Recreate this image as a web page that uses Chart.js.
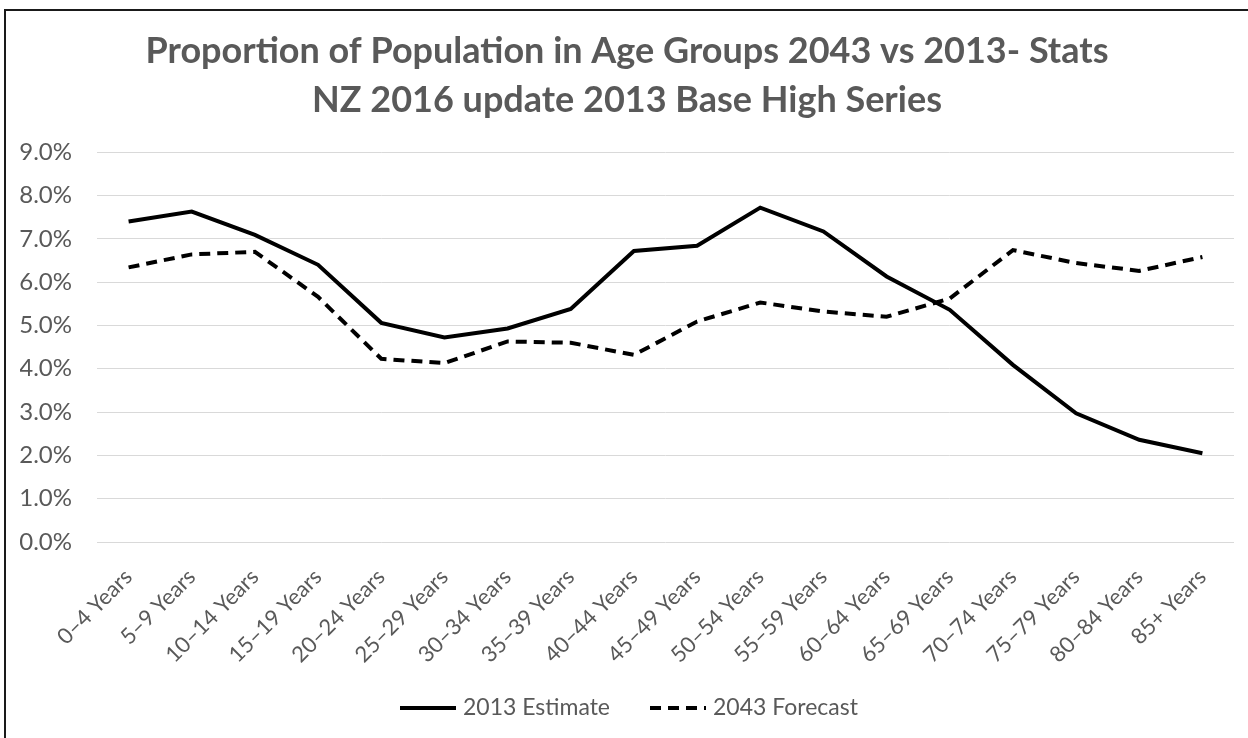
<!DOCTYPE html>
<html>
<head>
<meta charset="utf-8">
<script src="https://cdn.jsdelivr.net/npm/chart.js@4.4.1/dist/chart.umd.min.js"></script>
<style>
  html, body { margin: 0; padding: 0; background: #fff; }
  #wrap { position: relative; width: 1248px; height: 738px; }
  #frame { position: absolute; left: 4px; top: 9px; width: 1300px; height: 800px;
           border-left: 2px solid #1a1a1a; border-top: 2px solid #1a1a1a; pointer-events: none; }
</style>
</head>
<body>
<div id="wrap">
  <canvas id="line-canvas" width="1248" height="738"></canvas>
  <div id="frame"></div>
</div>
<script>
var ageGroups = ["0\u20134 Years", "5\u20139 Years", "10\u201314 Years", "15\u201319 Years", "20\u201324 Years",
  "25\u201329 Years", "30\u201334 Years", "35\u201339 Years", "40\u201344 Years", "45\u201349 Years",
  "50\u201354 Years", "55\u201359 Years", "60\u201364 Years", "65\u201369 Years", "70\u201374 Years",
  "75\u201379 Years", "80\u201384 Years", "85+ Years"];

// percent of population
var estimate2013 = [7.40, 7.63, 7.09, 6.40, 5.06, 4.72, 4.93, 5.38, 6.72, 6.84, 7.72, 7.17, 6.13, 5.36, 4.09, 2.97, 2.36, 2.05];
var forecast2043 = [6.34, 6.64, 6.70, 5.66, 4.23, 4.13, 4.63, 4.60, 4.32, 5.09, 5.53, 5.32, 5.20, 5.62, 6.74, 6.44, 6.26, 6.58];

var yTicks = [0, 1, 2, 3, 4, 5, 6, 7, 8, 9];

var fontFam = "Lato, 'Noto Sans', sans-serif";
var grey = "#595959";

// legend drawn like the Excel one: two items spread out under the axis
var lineLegend = {
  id: "lineLegend",
  afterDraw: function(chart) {
    var ctx = chart.ctx;
    var items = [{x: 400}, {x: 650}];
    ctx.save();
    ctx.font = "23px " + fontFam;
    ctx.textBaseline = "middle";
    chart.data.datasets.forEach(function(ds, i) {
      var x = items[i].x, y = 708;
      ctx.strokeStyle = ds.borderColor;
      ctx.lineWidth = ds.borderWidth;
      ctx.setLineDash(ds.borderDash || []);
      ctx.beginPath();
      ctx.moveTo(x, y);
      ctx.lineTo(x + 56, y);
      ctx.stroke();
      ctx.fillStyle = grey;
      ctx.fillText(ds.label, x + 63, y);
    });
    ctx.restore();
  }
};

var ctx = document.getElementById("line-canvas");

var chartData = {
  labels: ageGroups,
  datasets: [{
    label: "2013 Estimate",
    data: estimate2013,
    borderColor: "#000000",
    backgroundColor: "#000000",
    borderWidth: 4,
    fill: false,
    tension: 0,
    pointRadius: 0
  }, {
    label: "2043 Forecast",
    data: forecast2043,
    borderColor: "#000000",
    backgroundColor: "#000000",
    borderWidth: 4,
    borderDash: [11, 7],
    fill: false,
    tension: 0,
    pointRadius: 0
  }]
};

var options = {
  responsive: false,
  animation: false,
  layout: { padding: { left: 20, right: 14, top: 0, bottom: 60 } },
  plugins: {
    legend: { display: false },
    tooltip: { enabled: false },
    title: {
      display: true,
      text: ["Proportion of Population in Age Groups 2043 vs 2013- Stats", "NZ 2016 update 2013 Base High Series"],
      color: grey,
      font: { family: fontFam, size: 36, weight: "bold", lineHeight: 1.35 },
      padding: { top: 27, bottom: 28 }
    }
  },
  scales: {
    x: {
      offset: true,
      grid: { display: false },
      border: { display: false },
      ticks: {
        color: grey,
        font: { family: fontFam, size: 22 },
        maxRotation: 45,
        minRotation: 45,
        autoSkip: false,
        padding: 14
      },
      afterFit: function(scale) { scale.height = 136; }
    },
    y: {
      min: 0,
      max: 9,
      afterBuildTicks: function(scale) {
        scale.ticks = yTicks.map(function(v) { return { value: v }; });
      },
      grid: { color: "#d9d9d9", lineWidth: 1, drawTicks: false },
      border: { display: false },
      ticks: {
        color: grey,
        font: { family: fontFam, size: 24 },
        padding: 25,
        callback: function(v) { return v.toFixed(1) + "%"; }
      },
      afterFit: function(scale) { scale.width = 77; }
    }
  }
};

var chart = new Chart(ctx, {
  type: "line",
  data: chartData,
  options: options,
  plugins: [lineLegend]
});
</script>
</body>
</html>
